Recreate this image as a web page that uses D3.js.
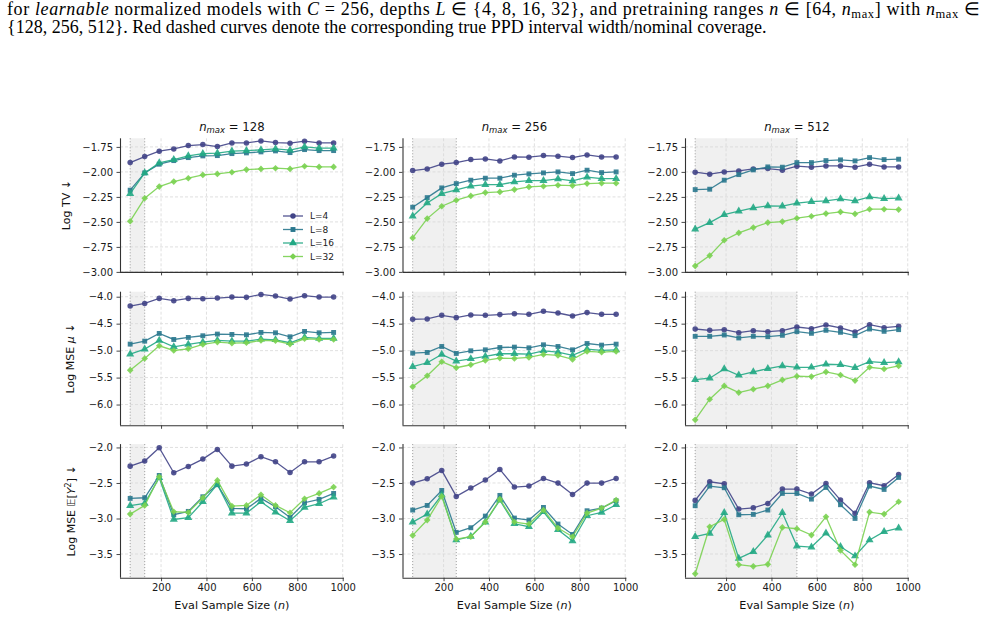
<!DOCTYPE html>
<html><head><meta charset="utf-8">
<script src="https://cdn.jsdelivr.net/npm/d3@7"></script>
<style>body{margin:0;background:#fff} svg{display:block}</style>
</head><body><svg id="chart" width="984" height="638"></svg>
<script>
// ---------- data ----------
const evalSizes = [64,128,192,256,320,384,448,512,576,640,704,768,832,896,960];
const nMaxValues = [128,256,512];
const depthLabels = ["L=4","L=8","L=16","L=32"];
const xTicks = [200,400,600,800,1000];
const tvTicks = [-3.00,-2.75,-2.50,-2.25,-2.00,-1.75];
const muTicks = [-6.0,-5.5,-5.0,-4.5,-4.0];
const y2Ticks = [-3.5,-3.0,-2.5,-2.0];

// Log TV, one list per depth (L=4, 8, 16, 32)
const logTV_128 = [
  [-1.907,-1.847,-1.793,-1.770,-1.737,-1.727,-1.747,-1.710,-1.710,-1.690,-1.707,-1.713,-1.693,-1.710,-1.710],
  [-2.183,-2.010,-1.923,-1.887,-1.857,-1.840,-1.837,-1.817,-1.810,-1.800,-1.790,-1.807,-1.777,-1.787,-1.787],
  [-2.217,-2.010,-1.910,-1.877,-1.840,-1.817,-1.813,-1.793,-1.787,-1.780,-1.770,-1.783,-1.750,-1.763,-1.763],
  [-2.493,-2.263,-2.147,-2.097,-2.063,-2.030,-2.020,-2.003,-1.977,-1.970,-1.963,-1.970,-1.943,-1.950,-1.950]];
const logTV_256 = [
  [-1.987,-1.970,-1.923,-1.907,-1.877,-1.870,-1.890,-1.850,-1.853,-1.837,-1.843,-1.857,-1.830,-1.850,-1.850],
  [-2.353,-2.257,-2.160,-2.117,-2.083,-2.063,-2.063,-2.033,-2.020,-2.010,-2.000,-2.017,-1.983,-2.007,-2.000],
  [-2.443,-2.310,-2.217,-2.180,-2.143,-2.127,-2.127,-2.100,-2.087,-2.087,-2.070,-2.090,-2.053,-2.067,-2.067],
  [-2.660,-2.467,-2.343,-2.283,-2.240,-2.207,-2.200,-2.177,-2.150,-2.143,-2.133,-2.137,-2.117,-2.113,-2.113]];
const logTV_512 = [
  [-2.003,-2.023,-2.000,-1.990,-1.970,-1.967,-1.983,-1.943,-1.953,-1.940,-1.940,-1.953,-1.923,-1.950,-1.950],
  [-2.177,-2.173,-2.083,-2.027,-1.980,-1.950,-1.953,-1.907,-1.907,-1.887,-1.880,-1.890,-1.857,-1.877,-1.873],
  [-2.573,-2.507,-2.427,-2.393,-2.360,-2.340,-2.343,-2.313,-2.297,-2.290,-2.270,-2.290,-2.250,-2.267,-2.263],
  [-2.940,-2.837,-2.683,-2.610,-2.557,-2.507,-2.497,-2.463,-2.443,-2.417,-2.400,-2.420,-2.373,-2.373,-2.377]];

// Log MSE mu
const logMu_128 = [
  [-4.173,-4.124,-4.031,-4.074,-4.031,-4.037,-4.025,-4.006,-4.012,-3.957,-3.988,-4.043,-3.981,-4.006,-4.006],
  [-4.879,-4.824,-4.681,-4.793,-4.755,-4.724,-4.693,-4.700,-4.706,-4.663,-4.669,-4.743,-4.644,-4.669,-4.663],
  [-5.065,-4.972,-4.811,-4.929,-4.885,-4.842,-4.811,-4.824,-4.824,-4.786,-4.799,-4.854,-4.755,-4.774,-4.774],
  [-5.362,-5.146,-4.910,-4.997,-4.966,-4.885,-4.842,-4.861,-4.854,-4.811,-4.817,-4.879,-4.780,-4.793,-4.793]];
const logMu_256 = [
  [-4.418,-4.412,-4.345,-4.388,-4.338,-4.345,-4.332,-4.314,-4.326,-4.271,-4.302,-4.357,-4.295,-4.326,-4.326],
  [-5.046,-5.034,-4.923,-5.052,-5.003,-4.985,-4.942,-4.935,-4.948,-4.892,-4.923,-4.985,-4.868,-4.898,-4.880],
  [-5.298,-5.225,-5.071,-5.194,-5.151,-5.108,-5.058,-5.058,-5.065,-5.003,-5.028,-5.089,-4.972,-4.997,-4.985],
  [-5.668,-5.465,-5.206,-5.317,-5.262,-5.182,-5.138,-5.145,-5.126,-5.071,-5.089,-5.163,-5.015,-5.028,-5.015]];
const logMu_512 = [
  [-4.599,-4.623,-4.611,-4.667,-4.630,-4.648,-4.630,-4.562,-4.593,-4.525,-4.580,-4.654,-4.519,-4.574,-4.549],
  [-4.735,-4.735,-4.710,-4.765,-4.735,-4.741,-4.716,-4.648,-4.679,-4.623,-4.660,-4.722,-4.599,-4.642,-4.611],
  [-5.537,-5.512,-5.340,-5.457,-5.395,-5.333,-5.284,-5.309,-5.309,-5.253,-5.259,-5.315,-5.204,-5.222,-5.210],
  [-6.284,-5.901,-5.654,-5.778,-5.716,-5.654,-5.543,-5.475,-5.481,-5.395,-5.451,-5.556,-5.309,-5.340,-5.284]];

// Log MSE E[Y^2]
const logY2_128 = [
  [-2.263,-2.192,-2.005,-2.356,-2.267,-2.164,-2.028,-2.263,-2.234,-2.131,-2.202,-2.352,-2.202,-2.202,-2.122],
  [-2.717,-2.708,-2.394,-2.947,-2.900,-2.694,-2.525,-2.858,-2.863,-2.717,-2.834,-2.985,-2.778,-2.731,-2.647],
  [-2.820,-2.788,-2.427,-3.013,-2.989,-2.764,-2.520,-2.924,-2.924,-2.764,-2.910,-3.031,-2.844,-2.792,-2.699],
  [-2.938,-2.816,-2.413,-2.905,-2.914,-2.708,-2.464,-2.825,-2.816,-2.666,-2.816,-2.919,-2.722,-2.647,-2.558]];
const logY2_256 = [
  [-2.502,-2.441,-2.323,-2.689,-2.572,-2.459,-2.309,-2.558,-2.544,-2.436,-2.502,-2.661,-2.502,-2.502,-2.436],
  [-2.881,-2.816,-2.605,-3.195,-3.130,-2.966,-2.675,-2.994,-3.022,-2.844,-3.078,-3.224,-2.891,-2.853,-2.750],
  [-3.050,-2.938,-2.670,-3.303,-3.252,-3.050,-2.741,-3.074,-3.116,-2.905,-3.158,-3.317,-2.961,-2.914,-2.806],
  [-3.238,-3.022,-2.689,-3.289,-3.256,-3.050,-2.727,-3.050,-3.078,-2.881,-3.135,-3.256,-2.924,-2.853,-2.741]];
const logY2_512 = [
  [-2.745,-2.483,-2.511,-2.867,-2.849,-2.788,-2.586,-2.586,-2.656,-2.506,-2.741,-2.928,-2.497,-2.539,-2.380],
  [-2.820,-2.544,-2.567,-2.947,-2.942,-2.881,-2.647,-2.647,-2.727,-2.563,-2.806,-2.999,-2.544,-2.591,-2.422],
  [-3.256,-3.210,-2.919,-3.561,-3.467,-3.233,-2.919,-3.388,-3.402,-3.205,-3.397,-3.528,-3.303,-3.186,-3.135],
  [-3.777,-3.116,-3.013,-3.650,-3.673,-3.645,-3.125,-3.144,-3.233,-2.975,-3.449,-3.650,-2.910,-2.938,-2.764]];

// ---------- layout ----------
const svg = d3.select("#chart");
const FONT = "DejaVu Sans, sans-serif";
const SERIF = "Liberation Serif, Times New Roman, serif";
const colors = ["#414487","#2a788e","#22a884","#7ad151"];
const symbols = [d3.symbolCircle, d3.symbolSquare, d3.symbolTriangle, d3.symbolSquare];
const symSizes = [24, 24, 28, 22];
const symRot = [0,0,0,45];

const colLeft = [120, 402.5, 685];
const panelW = 223.8;
const rowTop = [138.3, 291.7, 444.1];
const panelH = 133.6;
const xDomain = [19.2, 1004.8];

const rows = [
  {data:[logTV_128, logTV_256, logTV_512], ticks:tvTicks, dom:[-3.0,-1.664], fmt:d3.format(".2f"), labelX:70},
  {data:[logMu_128, logMu_256, logMu_512], ticks:muTicks, dom:[-6.385,-3.907], fmt:d3.format(".1f"), labelX:74},
  {data:[logY2_128, logY2_256, logY2_512], ticks:y2Ticks, dom:[-3.833,-1.953], fmt:d3.format(".1f"), labelX:75}
];

const addT = (el, txt, opts={}) => {
  const t = el.append("tspan").text(txt);
  if (opts.it) t.attr("font-style","italic");
  if (opts.dy) t.attr("dy",opts.dy);
  if (opts.fs) t.attr("font-size",opts.fs);
  return t;
};

// caption text at the top
const cap1 = svg.append("text").attr("x",7).attr("y",14.5)
  .attr("font-family",SERIF).attr("font-size",18).attr("fill","#000")
  .attr("textLength",973).attr("lengthAdjust","spacing");
addT(cap1,"for ");
addT(cap1,"learnable",{it:1});
addT(cap1," normalized models with ");
addT(cap1,"C",{it:1});
addT(cap1," = 256, depths ");
addT(cap1,"L",{it:1});
addT(cap1," ∈ {4, 8, 16, 32}, and pretraining ranges ");
addT(cap1,"n",{it:1});
addT(cap1," ∈ [64, ");
addT(cap1,"n",{it:1});
addT(cap1,"max",{dy:3,fs:12.5});
addT(cap1,"] with ",{dy:-3});
addT(cap1,"n",{it:1});
addT(cap1,"max",{dy:3,fs:12.5});
addT(cap1," ∈",{dy:-3});
svg.append("text").attr("x",7).attr("y",32.8)
  .attr("font-family",SERIF).attr("font-size",18).attr("fill","#000")
  .text("{128, 256, 512}. Red dashed curves denote the corresponding true PPD interval width/nominal coverage.");

rows.forEach((row, ri) => {
  const y = d3.scaleLinear().domain(row.dom).range([rowTop[ri]+panelH, rowTop[ri]]);
  nMaxValues.forEach((nm, ci) => {
    const x = d3.scaleLinear().domain(xDomain).range([colLeft[ci], colLeft[ci]+panelW]);
    const g = svg.append("g");
    const top = rowTop[ri], bot = rowTop[ri]+panelH;
    // shaded pretraining range
    g.append("rect").attr("x",x(64)).attr("y",top).attr("width",x(nm)-x(64)).attr("height",panelH)
      .attr("fill","#f0f0f0");
    // grid
    xTicks.forEach(t => g.append("line").attr("x1",x(t)).attr("x2",x(t)).attr("y1",top).attr("y2",bot)
      .attr("stroke","#d8d8d8").attr("stroke-width",0.8).attr("stroke-dasharray","3,2"));
    row.ticks.forEach(t => g.append("line").attr("x1",colLeft[ci]).attr("x2",colLeft[ci]+panelW).attr("y1",y(t)).attr("y2",y(t))
      .attr("stroke","#d8d8d8").attr("stroke-width",0.8).attr("stroke-dasharray","3,2"));
    // dotted boundaries
    [64, nm].forEach(v => g.append("line").attr("x1",x(v)).attr("x2",x(v)).attr("y1",top).attr("y2",bot)
      .attr("stroke","#999").attr("stroke-width",1).attr("stroke-dasharray","1,2"));
    // series
    const data = row.data[ci];
    data.forEach((vals, si) => {
      const pts = vals.map((v,i)=>[evalSizes[i], v]);
      g.append("path").attr("d", d3.line().x(d=>x(d[0])).y(d=>y(d[1]))(pts))
        .attr("fill","none").attr("stroke",colors[si]).attr("stroke-width",1.3).attr("opacity",0.9);
      g.selectAll(null).data(pts).enter().append("path")
        .attr("d", d3.symbol().type(symbols[si]).size(symSizes[si]))
        .attr("transform", d=>`translate(${x(d[0])},${y(d[1])}) rotate(${symRot[si]})`)
        .attr("fill",colors[si]).attr("opacity",0.9);
    });
    // axes
    const xAxis = d3.axisBottom(x).tickValues(xTicks).tickSize(3.5).tickPadding(3)
      .tickFormat(ri===2 ? d3.format("d") : () => "");
    const xa = g.append("g").attr("transform",`translate(0,${bot})`).call(xAxis);
    const yAxis = d3.axisLeft(y).tickValues(row.ticks).tickSize(3.5).tickPadding(3.5).tickFormat(row.fmt);
    const ya = g.append("g").attr("transform",`translate(${colLeft[ci]},0)`).call(yAxis);
    [xa, ya].forEach(a => {
      a.select(".domain").attr("stroke","#333").attr("stroke-width",1.1);
      a.selectAll(".tick line").attr("stroke","#333").attr("stroke-width",0.9);
      a.selectAll(".tick text").attr("font-family",FONT).attr("font-size",10).attr("fill","#1a1a1a");
    });
    xa.select(".domain").attr("d",`M${colLeft[ci]},0.5H${colLeft[ci]+panelW}`);
    ya.select(".domain").attr("d",`M0.5,${top}V${bot}`);

    // titles
    if (ri===0) {
      const t = svg.append("text").attr("x",colLeft[ci]+panelW/2).attr("y",130.5)
        .attr("text-anchor","middle").attr("font-family",FONT).attr("font-size",11.7).attr("fill","#111");
      addT(t,"n",{it:1});
      addT(t,"max",{it:1,dy:2.7,fs:8.5});
      addT(t," = "+nm,{dy:-2.7});
    }
    if (ri===2) {
      const t = svg.append("text").attr("x",colLeft[ci]+panelW/2).attr("y",609)
        .attr("text-anchor","middle").attr("font-family",FONT).attr("font-size",11.2).attr("fill","#111");
      addT(t,"Eval Sample Size (");
      addT(t,"n",{it:1});
      addT(t,")");
    }
    // legend
    if (ri===0 && ci===0) {
      const ly = [216, 229.5, 243, 256.5];
      depthLabels.forEach((lab, si) => {
        g.append("line").attr("x1",283).attr("x2",303).attr("y1",ly[si]).attr("y2",ly[si])
          .attr("stroke",colors[si]).attr("stroke-width",1.3).attr("opacity",0.9);
        g.append("path").attr("d", d3.symbol().type(symbols[si]).size(symSizes[si]))
          .attr("transform",`translate(293,${ly[si]}) rotate(${symRot[si]})`).attr("fill",colors[si]);
        g.append("text").attr("x",310).attr("y",ly[si]).attr("dy","0.35em")
          .attr("font-family",FONT).attr("font-size",9).attr("fill","#1a1a1a").text(lab);
      });
    }
  });
  // y label
  const cy = rowTop[ri] + panelH/2;
  const lt = svg.append("text").attr("transform",`translate(${row.labelX},${cy}) rotate(-90)`)
    .attr("text-anchor","middle").attr("font-family",FONT).attr("font-size",11).attr("fill","#111");
  if (ri===0) { addT(lt,"Log TV  ↓"); }
  else if (ri===1) { addT(lt,"Log MSE "); addT(lt,"μ",{it:1}); addT(lt,"  ↓"); }
  else {
    addT(lt,"Log MSE 𝔼["); addT(lt,"Y",{it:1}); addT(lt,"2",{dy:-4,fs:8}); addT(lt,"]",{dy:4}); addT(lt,"  ↓");
  }
});
</script></body></html>
